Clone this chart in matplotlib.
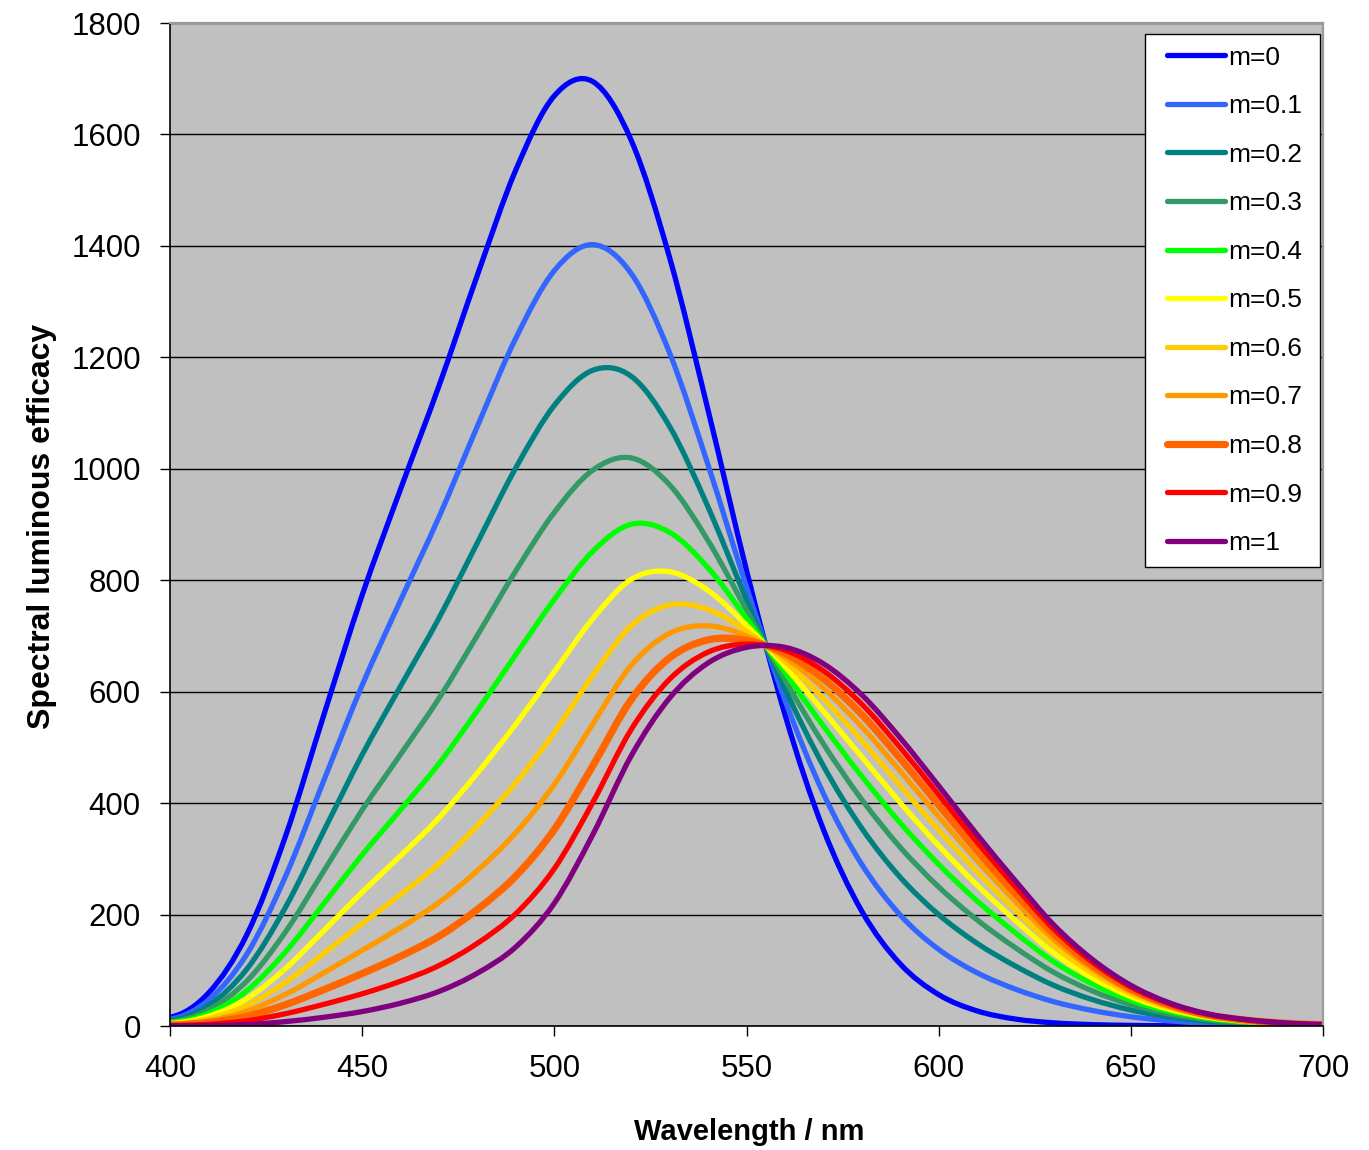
import numpy as np
import matplotlib
matplotlib.use("Agg")
import matplotlib.pyplot as plt
from matplotlib.path import Path
from matplotlib.patches import PathPatch
from matplotlib.lines import Line2D
from matplotlib.legend_handler import HandlerLine2D

plt.rcParams['font.family'] = ['Liberation Sans', 'DejaVu Sans']

# wavelength samples (nm), 555 nm added where all curves meet
wavelength = [400, 410, 420, 430, 440, 450, 460, 470, 480, 490, 500, 510, 520,
              530, 540, 550, 555, 560, 570, 580, 590, 600, 610, 620, 630, 640,
              650, 660, 670, 680, 690, 700]

eff_m00 = [15.8, 59.2, 164.2, 339.7, 557.8, 773.5, 963.9, 1149.2, 1348.1, 1536.8,
           1669.4, 1694.9, 1589.5, 1378.7, 1105.0, 817.7, 683.0, 559.0, 352.9, 206.0,
           111.4, 56.4, 27.1, 12.5, 5.7, 2.5, 1.2, 0.5, 0.3, 0.1, 0.1, 0.0]
eff_m01 = [12.4, 46.6, 129.2, 267.9, 440.4, 611.7, 764.1, 913.8, 1076.8, 1234.8,
           1355.7, 1402.3, 1350.4, 1207.7, 1006.8, 787.8, 683.0, 585.1, 417.3, 290.0,
           199.2, 137.5, 95.6, 66.1, 43.6, 27.9, 16.7, 9.4, 4.9, 2.6, 1.3, 0.6]
eff_m02 = [9.8, 36.8, 102.3, 212.5, 350.0, 486.9, 610.1, 732.4, 867.6, 1002.1,
           1113.9, 1176.8, 1166.0, 1075.8, 931.2, 764.7, 683.0, 605.2, 466.9, 354.8,
           266.9, 200.0, 148.4, 107.5, 72.9, 47.4, 28.7, 16.3, 8.6, 4.5, 2.2, 1.1]
eff_m03 = [7.8, 29.1, 80.9, 168.5, 278.1, 387.8, 487.7, 588.3, 701.5, 817.1,
           921.8, 997.6, 1019.5, 971.1, 871.0, 746.4, 683.0, 621.2, 506.3, 406.3,
           320.7, 249.7, 190.4, 140.3, 96.1, 62.9, 38.3, 21.8, 11.4, 6.0, 2.9, 1.5]
eff_m04 = [6.1, 22.8, 63.5, 132.7, 219.6, 307.2, 388.2, 471.1, 566.4, 666.8,
           765.6, 851.9, 900.4, 885.9, 822.2, 731.5, 683.0, 634.2, 538.4, 448.2,
           364.4, 290.1, 224.5, 167.0, 115.0, 75.5, 46.0, 26.2, 13.8, 7.3, 3.5, 1.8]
eff_m05 = [4.7, 17.6, 49.0, 103.0, 171.1, 240.3, 305.6, 373.8, 454.2, 542.0,
           636.0, 731.0, 801.6, 815.2, 781.6, 719.1, 683.0, 645.0, 565.0, 482.9,
           400.7, 323.6, 252.8, 189.2, 130.7, 86.0, 52.5, 29.9, 15.7, 8.3, 4.0, 2.0]
eff_m06 = [3.6, 13.2, 36.9, 78.1, 130.3, 184.0, 236.1, 291.9, 359.9, 436.9,
           526.9, 629.2, 718.4, 755.7, 747.4, 708.7, 683.0, 654.1, 587.4, 512.1,
           431.3, 351.8, 276.6, 207.8, 143.9, 94.8, 57.9, 33.0, 17.3, 9.2, 4.4, 2.2]
eff_m07 = [2.6, 9.4, 26.5, 56.7, 95.4, 135.8, 176.7, 221.9, 279.2, 347.1,
           433.6, 542.2, 647.3, 704.8, 718.2, 699.8, 683.0, 661.9, 606.5, 537.1,
           457.4, 375.9, 297.0, 223.8, 155.2, 102.3, 62.5, 35.7, 18.7, 9.9, 4.8, 2.4]
eff_m08 = [1.7, 6.2, 17.5, 38.2, 65.2, 94.2, 125.3, 161.3, 209.4, 269.4,
           352.9, 466.9, 585.7, 660.8, 693.0, 692.1, 683.0, 668.6, 623.1, 558.8,
           480.0, 396.8, 314.6, 237.6, 165.0, 108.8, 66.5, 37.9, 19.9, 10.6, 5.1, 2.5]
eff_m09 = [0.9, 3.3, 9.6, 22.1, 38.9, 57.9, 80.5, 108.6, 148.6, 201.8,
           282.6, 401.3, 532.2, 622.5, 671.0, 685.4, 683.0, 674.4, 637.5, 577.6,
           499.6, 415.0, 330.0, 249.6, 173.5, 114.5, 70.0, 39.9, 21.0, 11.1, 5.4, 2.7]
eff_m10 = [0.3, 0.8, 2.7, 7.9, 15.7, 26.0, 41.0, 62.1, 95.0, 142.1,
           220.6, 343.5, 484.9, 588.7, 651.6, 679.5, 683.0, 679.6, 650.2, 594.2,
           517.0, 431.0, 343.5, 260.2, 181.0, 119.5, 73.1, 41.7, 21.9, 11.6, 5.6, 2.8]

labels = ['m=0', 'm=0.1', 'm=0.2', 'm=0.3', 'm=0.4', 'm=0.5',
          'm=0.6', 'm=0.7', 'm=0.8', 'm=0.9', 'm=1']
series = [eff_m00, eff_m01, eff_m02, eff_m03, eff_m04, eff_m05,
          eff_m06, eff_m07, eff_m08, eff_m09, eff_m10]
colors = ['#0000FF', '#3366FF', '#008080', '#339966', '#00FF00', '#FFFF00',
          '#FFCC00', '#FF9900', '#FF6600', '#FF0000', '#800080']
widths = [3.8, 3.8, 3.8, 3.8, 3.8, 3.8, 3.8, 3.8, 5.2, 3.8, 3.8]


def smooth_path(x, y):
    # smoothed line (like the spreadsheet's): cubic Hermite segments between samples
    x = np.asarray(x, float)
    y = np.asarray(y, float)
    slope = np.gradient(y, x, edge_order=2)
    verts = [(x[0], y[0])]
    codes = [Path.MOVETO]
    for i in range(len(x) - 1):
        h = x[i + 1] - x[i]
        verts += [(x[i] + h / 3, y[i] + slope[i] * h / 3),
                  (x[i + 1] - h / 3, y[i + 1] - slope[i + 1] * h / 3),
                  (x[i + 1], y[i + 1])]
        codes += [Path.CURVE4] * 3
    return Path(verts, codes)


class InsetLine(HandlerLine2D):
    # legend line with some space before it
    def create_artists(self, legend, orig_handle, xdescent, ydescent,
                       width, height, fontsize, trans):
        y = height / 2 - ydescent
        start = 0.4 * fontsize - xdescent
        line = Line2D([start, width - xdescent], [y, y])
        self.update_prop(line, orig_handle, legend)
        line.set_transform(trans)
        return [line]


fig = plt.figure(figsize=(13.69, 11.5), dpi=100, facecolor='white')
ax = fig.add_axes([0.1242, 0.1078, 0.8422, 0.8722])
ax.set_facecolor('#C0C0C0')

handles = []
for y, c, lw, lab in zip(series, colors, widths, labels):
    patch = PathPatch(smooth_path(wavelength, y), facecolor='none', edgecolor=c,
                      lw=lw, capstyle='round', joinstyle='round', zorder=2)
    ax.add_patch(patch)
    handles.append(Line2D([], [], color=c, lw=lw, solid_capstyle='round', label=lab))

ax.set_xlim(400, 700)
ax.set_ylim(0, 1800)
ax.set_xticks(np.arange(400, 701, 50))
ax.set_yticks(np.arange(0, 1801, 200))

ax.yaxis.grid(True, color='black', lw=1.0)
ax.set_axisbelow(True)

for side in ['left', 'bottom']:
    ax.spines[side].set_color('black')
    ax.spines[side].set_linewidth(1.2)
for side in ['top', 'right']:
    ax.spines[side].set_color('#9A9A9A')
    ax.spines[side].set_linewidth(1.6)

ax.tick_params(axis='both', direction='out', length=7, width=1.0,
               labelsize=22.5, colors='black')
ax.tick_params(axis='x', pad=13)
ax.tick_params(axis='y', pad=14)

fig.text(0.031, 0.5426, 'Spectral luminous efficacy', rotation=90,
         ha='center', va='center', fontsize=23, fontweight='bold')
fig.text(0.547, 0.0087, 'Wavelength / nm', ha='center', va='baseline',
         fontsize=21, fontweight='bold')

leg = ax.legend(handles=handles, loc='upper left',
                bbox_to_anchor=(0.8456, 0.5, 0.1518, 0.489), mode='expand',
                borderaxespad=0, fontsize=19, frameon=True, fancybox=False,
                framealpha=1, edgecolor='black', borderpad=0.44,
                labelspacing=0.93, handlelength=2.6, handletextpad=0.1,
                handler_map={Line2D: InsetLine()})
leg.get_frame().set_linewidth(1.0)

fig.savefig('out.png', dpi=100, facecolor='white')
